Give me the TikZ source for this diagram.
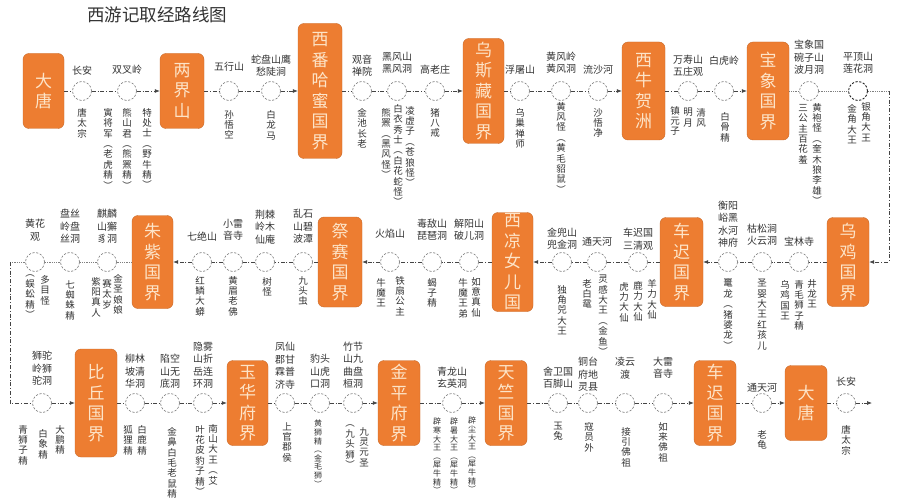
\documentclass[tikz,border=0pt]{standalone}
\usepackage{fontspec}
\setmainfont{Noto Sans CJK SC}
\usetikzlibrary{arrows.meta}
\definecolor{org}{HTML}{ED7D31}
\definecolor{orgtext}{HTML}{FDE4C8}
\definecolor{txt}{HTML}{333333}
\definecolor{ln}{HTML}{444444}
\makeatletter
\def\vt#1{\vbox{\lineskiplimit=-\maxdimen\vt@a#1\@nil}}
\def\vt@a#1#2\@nil{\hbox to 1em{\hss#1\hss}\ifx\relax#2\relax\else\vt@a#2\@nil\fi}
\makeatother
\tikzset{
 gbox/.style={fill=org, draw=org!85!black, line width=0.4pt, rounded corners=6pt, minimum width=42pt, inner sep=0pt, text=orgtext, font=\fontsize{17}{20.5}\selectfont},
 stn/.style={circle, draw=gray!90!black, dash pattern=on 2.2pt off 1.6pt, line width=0.6pt, fill=white, minimum size=19pt, inner sep=0pt},
 route/.style={draw=ln, line width=0.7pt, dash pattern=on 4pt off 1.8pt on 1pt off 1.8pt},
 dotl/.style={draw=gray, line width=0.6pt, dash pattern=on 0.8pt off 1pt},
 arr/.style={-{Latex[length=5pt,width=4pt]}},
 vl/.style={anchor=north, inner sep=0pt, text=txt, font=\fontsize{9.5}{10.4}\selectfont},
 vls/.style={anchor=north, inner sep=0pt, text=txt, font=\fontsize{8}{8.6}\selectfont},
 tl/.style={anchor=south, inner sep=0pt, align=center, text=txt, font=\fontsize{10}{12.5}\selectfont},
}
\begin{document}
\begin{tikzpicture}[x=1pt,y=-1pt]
\useasboundingbox[fill=white] (0,0) rectangle (905,500);
\node[text=txt, font=\fontsize{17.5}{20}\selectfont] (title) at (157,15) {西游记取经路线图};
% ---------- row 1 ----------
\node[gbox, minimum height=75pt, minimum width=41pt] (A0) at (43.5,91) {\vt{大唐}};
\node[gbox, minimum height=75pt, minimum width=44pt] (A1) at (182,91) {\vt{两界山}};
\node[gbox, minimum height=135pt, minimum width=44pt] (A2) at (320,91) {\vt{西番哈蜜国界}};
\node[gbox, minimum height=105pt, minimum width=41pt] (A3) at (483.5,91) {\vt{乌斯藏国界}};
\node[gbox, minimum height=98pt, minimum width=43pt] (A4) at (643.5,91) {\vt{西牛贺洲}};
\node[gbox, minimum height=98pt, minimum width=42pt] (A5) at (768,91) {\vt{宝象国界}};
\foreach \n/\x in {a1/82,a2/127,a3/229,a4/271,a5/362,a6/397,a7/435,a8/520,a9/561,a10/598,a11/688,a12/724,a13/809}
  \node[stn] (\n) at (\x,91) {};
\node[stn, draw=black!85, line width=0.9pt] (a14) at (858,91) {};
\coordinate (k1) at (889,91);
\coordinate (k2) at (889,262);
% ---------- row 2 ----------
\node[gbox, minimum height=89pt, minimum width=42pt] (B0) at (848,262) {\vt{乌鸡国界}};
\node[gbox, minimum height=89pt, minimum width=43pt] (B1) at (681.5,262) {\vt{车迟国界}};
\node[gbox, minimum height=99pt, minimum width=41pt] (B2) at (512.5,262) {\vt{西凉女儿国}};
\node[gbox, minimum height=90pt, minimum width=44pt] (B3) at (340,262) {\vt{祭赛国界}};
\node[gbox, minimum height=93pt, minimum width=41pt] (B4) at (152.5,262) {\vt{朱紫国界}};
\foreach \n/\x in {b1/799,b2/762,b3/728,b4/638,b5/597,b6/562,b7/469,b8/432,b9/390,b10/303,b11/265,b12/233,b13/202,b14/107,b15/70,b16/35}
  \node[stn] (\n) at (\x,262) {};
\coordinate (k3) at (10,262);
\coordinate (k4) at (10,403);
% ---------- row 3 ----------
\node[gbox, minimum height=108pt, minimum width=42pt] (C1) at (96,403) {\vt{比丘国界}};
\node[gbox, minimum height=85pt, minimum width=41pt] (C2) at (247.5,403) {\vt{玉华府界}};
\node[gbox, minimum height=85pt, minimum width=42pt] (C3) at (399,403) {\vt{金平府界}};
\node[gbox, minimum height=85pt, minimum width=42pt] (C4) at (506,403) {\vt{天竺国界}};
\node[gbox, minimum height=85pt, minimum width=42pt] (C5) at (715,403) {\vt{车迟国界}};
\node[gbox, minimum height=75pt, minimum width=42pt] (C6) at (806,403) {\vt{大唐}};
\foreach \n/\x in {c1/42,c2/135,c3/170,c4/203,c5/285,c6/320,c7/353,c8/452,c9/558,c10/588,c11/625,c12/663,c13/762,c14/846}
  \node[stn] (\n) at (\x,403) {};
\coordinate (k5) at (872,403);
% ---------- connectors ----------
\foreach \u/\v in {A0/a1,a1/a2,A1/a3,a3/a4,A2/a5,a5/a6,a6/a7,A3/a8,a8/a9,a9/a10,A4/a11,a11/a12,
                   B0/b1,b1/b2,b2/b3,B1/b4,b4/b5,b5/b6,B2/b7,b7/b8,b8/b9,B3/b10,b10/b11,b11/b12,b12/b13,
                   C1/c2,c2/c3,c3/c4,C2/c5,c5/c6,c6/c7,C3/c8,C4/c9,c9/c10,c10/c11,c11/c12,C5/c13,C6/c14}
  \draw[route] (\u) -- (\v);
\foreach \u/\v in {a2/A1,a4/A2,a7/A3,a10/A4,a12/A5,
                   b3/B1,b6/B2,b9/B3,b13/B4,
                   c1/C1,c4/C2,c7/C3,c8/C4,c12/C5,c13/C6,c14/k5}
  \draw[route,arr] (\u) -- (\v);
\foreach \u/\v in {A5/a13,a13/a14,a14/k1,B4/b14,b14/b15,b15/b16,b16/k3}
  \draw[dotl] (\u) -- (\v);
\draw[route,arr] (k1) -- (k2) -- (B0);
\draw[route] (k3) -- (k4) -- (c1);
% ---------- row 1 labels ----------
\node[tl] (ta1) at (82,75) {长安};
\node[vl] (la1) at (82,108) {\vt{唐太宗}};
\node[tl] (ta2) at (127,75) {双叉岭};
\node[vl] (la2a) at (108,108) {\vt{寅将军︵老虎精︶}};
\node[vl] (la2b) at (127,108) {\vt{熊山君︵熊罴精︶}};
\node[vl] (la2c) at (147,108) {\vt{特处士︵野牛精︶}};
\node[tl] (ta3) at (229,72) {五行山};
\node[vl] (la3) at (229,110) {\vt{孙悟空}};
\node[tl] (ta4) at (271,77) {蛇盘山鹰\\愁陡涧};
\node[vl] (la4) at (271,110) {\vt{白龙马}};
\node[tl] (ta5) at (362,77) {观音\\禅院};
\node[vl] (la5) at (362,108) {\vt{金池长老}};
\node[tl] (ta6) at (397,74) {黑风山\\黑风洞};
\node[vl] (la6a) at (386,108) {\vt{熊罴︵黑风怪︶}};
\node[vl] (la6b) at (398,104) {\vt{白衣秀士︵白花蛇怪︶}};
\node[vl] (la6c) at (410,106) {\vt{凌虚子︵苍狼怪︶}};
\node[tl] (ta7) at (435,75) {高老庄};
\node[vl] (la7) at (435,108) {\vt{猪八戒}};
\node[tl] (ta8) at (520,75) {浮屠山};
\node[vl] (la8) at (520,108) {\vt{乌巢禅师}};
\node[tl] (ta9) at (561,74) {黄风岭\\黄风洞};
\node[vl] (la9) at (561,102) {\vt{黄风怪︵黄毛貂鼠︶}};
\node[tl] (ta10) at (598,75) {流沙河};
\node[vl] (la10) at (598,108) {\vt{沙悟净}};
\node[tl] (ta11) at (688,77) {万寿山\\五庄观};
\node[vl] (la11a) at (675,106) {\vt{镇元子}};
\node[vl] (la11b) at (688,108) {\vt{明月}};
\node[vl] (la11c) at (701,108) {\vt{清风}};
\node[tl] (ta12) at (724,66) {白虎岭};
\node[vl] (la12) at (725,112) {\vt{白骨精}};
\node[tl] (ta13) at (809,75) {宝象国\\碗子山\\波月洞};
\node[vl] (la13a) at (803,104) {\vt{三公主百花羞}};
\node[vl] (la13b) at (817,103) {\vt{黄袍怪︵奎木狼李雄︶}};
\node[tl] (ta14) at (858,74) {平顶山\\莲花洞};
\node[vl] (la14a) at (852,104) {\vt{金角大王}};
\node[vl] (la14b) at (866,102) {\vt{银角大王}};
% ---------- row 2 labels ----------
\node[tl] (tb1) at (799,246) {宝林寺};
\node[vl] (lb1a) at (785,280) {\vt{乌鸡国王}};
\node[vl] (lb1b) at (799,280) {\vt{青毛狮子精}};
\node[vl] (lb1c) at (812,279) {\vt{井龙王}};
\node[tl] (tb2) at (762,246) {枯松涧\\火云洞};
\node[vl] (lb2) at (762,279) {\vt{圣婴大王红孩儿}};
\node[tl] (tb3) at (728,248) {衡阳\\峪黑\\水河\\神府};
\node[vl] (lb3) at (728,279) {\vt{鼍龙︵猪婆龙︶}};
\node[tl] (tb4) at (638,250) {车迟国\\三清观};
\node[vl] (lb4a) at (624,282) {\vt{虎力大仙}};
\node[vl] (lb4b) at (638,281) {\vt{鹿力大仙}};
\node[vl] (lb4c) at (652,279) {\vt{羊力大仙}};
\node[tl] (tb5) at (597,246) {通天河};
\node[vl] (lb5a) at (587,279) {\vt{老白鼋}};
\node[vl] (lb5b) at (603,275) {\vt{灵感大王︵金鱼︶}};
\node[tl] (tb6) at (562,250) {金兜山\\兜金洞};
\node[vl] (lb6) at (562,285) {\vt{独角兕大王}};
\node[tl] (tb7) at (469,241) {解阳山\\破儿洞};
\node[vl] (lb7a) at (463,278) {\vt{牛魔王弟}};
\node[vl] (lb7b) at (476,277) {\vt{如意真仙}};
\node[tl] (tb8) at (432,241) {毒敌山\\琵琶洞};
\node[vl] (lb8) at (432,278) {\vt{蝎子精}};
\node[tl] (tb9) at (390,239) {火焰山};
\node[vl] (lb9a) at (381,278) {\vt{牛魔王}};
\node[vl] (lb9b) at (400,276) {\vt{铁扇公主}};
\node[tl] (tb10) at (303,244) {乱石\\山碧\\波潭};
\node[vl] (lb10) at (303,276) {\vt{九头虫}};
\node[tl] (tb11) at (265,244) {荆棘\\岭木\\仙庵};
\node[vl] (lb11) at (267,277) {\vt{树怪}};
\node[tl] (tb12) at (233,241) {小雷\\音寺};
\node[vl] (lb12) at (233,276) {\vt{黄眉老佛}};
\node[tl] (tb13) at (202,241) {七绝山};
\node[vl] (lb13) at (200,276) {\vt{红鳞大蟒}};
\node[tl] (tb14) at (107,244) {麒麟\\山獬\\豸洞};
\node[vl] (lb14a) at (96,277) {\vt{紫阳真人}};
\node[vl] (lb14b) at (107,279) {\vt{赛太岁}};
\node[vl] (lb14c) at (118,274) {\vt{金圣娘娘}};
\node[tl] (tb15) at (70,244) {盘丝\\岭盘\\丝洞};
\node[vl] (lb15) at (70,280) {\vt{七蜘蛛精}};
\node[tl] (tb16) at (35,241) {黄花\\观};
\node[vl] (lb16a) at (30,275) {\vt{︵蜈蚣精︶}};
\node[vl] (lb16b) at (45,275) {\vt{多目怪}};
% ---------- row 3 labels ----------
\node[tl] (tc1) at (42,386) {狮驼\\岭狮\\驼洞};
\node[vl] (lc1a) at (23,425) {\vt{青狮子精}};
\node[vl] (lc1b) at (43,429) {\vt{白象精}};
\node[vl] (lc1c) at (60,425) {\vt{大鹏精}};
\node[tl] (tc2) at (135,389) {柳林\\坡清\\华洞};
\node[vl] (lc2a) at (128,425) {\vt{狐狸精}};
\node[vl] (lc2b) at (142,425) {\vt{白鹿精}};
\node[tl] (tc3) at (170,389) {陷空\\山无\\底洞};
\node[vl] (lc3) at (172,427) {\vt{金鼻白毛老鼠精}};
\node[tl] (tc4) at (203,389) {隐雾\\山折\\岳连\\环洞};
\node[vl] (lc4a) at (200,425) {\vt{叶花皮豹子精︶}};
\node[vl] (lc4b) at (213,424) {\vt{南山大王︵艾}};
\node[tl] (tc5) at (285,389) {凤仙\\郡甘\\霖普\\济寺};
\node[vl] (lc5) at (287,422) {\vt{上官郡侯}};
\node[tl] (tc6) at (320,389) {豹头\\山虎\\口洞};
\node[vls] (lc6) at (318,420) {\vt{黄狮精︵金毛狮︶}};
\node[tl] (tc7) at (353,389) {竹节\\山九\\曲盘\\桓洞};
\node[vl] (lc7a) at (350,425) {\vt{︵九头狮︶}};
\node[vl] (lc7b) at (364,427) {\vt{九灵元圣}};
\node[tl] (tc8) at (452,389) {青龙山\\玄英洞};
\node[vls] (lc8a) at (437,418) {\vt{辟寒大王︵犀牛精︶}};
\node[vls] (lc8b) at (454,418) {\vt{辟暑大王︵犀牛精︶}};
\node[vls] (lc8c) at (472,417) {\vt{辟尘大王︵犀牛精︶}};
\node[tl] (tc9) at (558,389) {舍卫国\\百脚山};
\node[vl] (lc9) at (558,422) {\vt{玉兔}};
\node[tl] (tc10) at (588,392) {铜台\\府地\\灵县};
\node[vl] (lc10) at (589,422) {\vt{寇员外}};
\node[tl] (tc11) at (625,379) {凌云\\渡};
\node[vl] (lc11) at (626,427) {\vt{接引佛祖}};
\node[tl] (tc12) at (663,379) {大雷\\音寺};
\node[vl] (lc12) at (663,422) {\vt{如来佛祖}};
\node[tl] (tc13) at (762,392) {通天河};
\node[vl] (lc13) at (762,430) {\vt{老龟}};
\node[tl] (tc14) at (846,386) {长安};
\node[vl] (lc14) at (846,425) {\vt{唐太宗}};
\end{tikzpicture}
\end{document}
